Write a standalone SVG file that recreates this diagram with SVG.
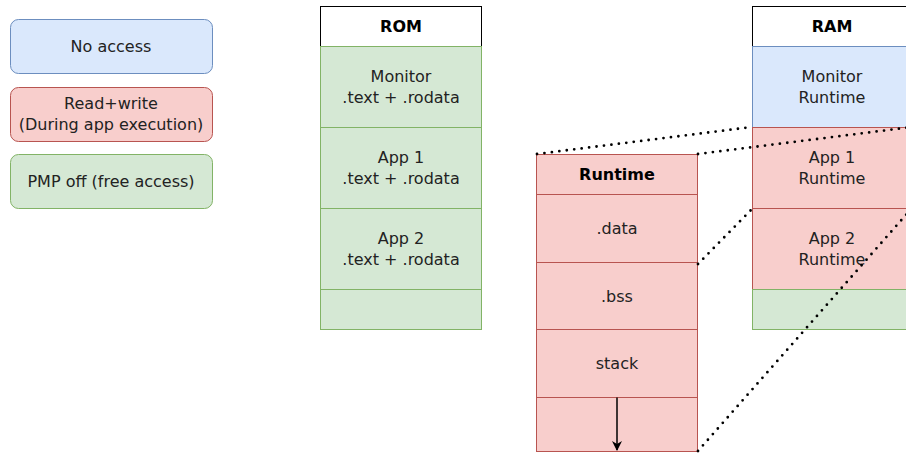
<svg xmlns="http://www.w3.org/2000/svg" width="906" height="453" viewBox="0 0 906 453">
<style>
text{font-family:"DejaVu Sans","Noto Sans",sans-serif;font-size:16px;fill:#222;text-anchor:middle}
.b{font-weight:bold;fill:#000}
.hdr{fill:#fff;stroke:#000;stroke-width:1}
.blue{fill:#dae8fc;stroke:#6c8ebf;stroke-width:1}
.red{fill:#f8cecc;stroke:#b85450;stroke-width:1}
.green{fill:#d5e8d4;stroke:#82b366;stroke-width:1}
.dot{fill:none;stroke:#000;stroke-width:2.8;stroke-linecap:round;stroke-dasharray:0 7.5}
</style>
<defs>
<marker id="ah" viewBox="0 0 10 10" refX="9" refY="5" markerWidth="10" markerHeight="10" markerUnits="userSpaceOnUse" orient="auto">
<path d="M0,0 L10,5 L0,10 L3,5 Z" fill="#000"/>
</marker>
</defs>
<rect width="906" height="453" fill="#fff"/>

<g id="legend-noaccess">
<rect class="blue" x="10.5" y="19.5" width="202" height="54" rx="8"/>
<text x="111" y="52">No access</text>
</g>
<g id="legend-rw">
<rect class="red" x="10.5" y="87.5" width="202" height="54" rx="8"/>
<text x="111" y="109">Read+write</text>
<text x="111" y="130">(During app execution)</text>
</g>
<g id="legend-pmpoff">
<rect class="green" x="10.5" y="154.5" width="202" height="54" rx="8"/>
<text x="111" y="187">PMP off (free access)</text>
</g>

<g id="rom">
<rect class="hdr" x="320.5" y="6.5" width="161" height="40"/>
<text class="b" x="401" y="32">ROM</text>
<rect class="green" x="320.5" y="46.5" width="161" height="81"/>
<text x="401" y="82">Monitor</text>
<text x="401" y="103">.text + .rodata</text>
<rect class="green" x="320.5" y="127.5" width="161" height="81"/>
<text x="401" y="163">App 1</text>
<text x="401" y="184">.text + .rodata</text>
<rect class="green" x="320.5" y="208.5" width="161" height="81"/>
<text x="401" y="244">App 2</text>
<text x="401" y="265">.text + .rodata</text>
<rect class="green" x="320.5" y="289.5" width="161" height="40"/>
</g>

<g id="ram">
<rect class="hdr" x="752.5" y="6.5" width="161" height="40"/>
<text class="b" x="832" y="32">RAM</text>
<rect class="blue" x="752.5" y="46.5" width="161" height="81"/>
<text x="832" y="82">Monitor</text>
<text x="832" y="103">Runtime</text>
<rect class="red" x="752.5" y="127.5" width="161" height="81"/>
<text x="832" y="163">App 1</text>
<text x="832" y="184">Runtime</text>
<rect class="red" x="752.5" y="208.5" width="161" height="81"/>
<text x="832" y="244">App 2</text>
<text x="832" y="265">Runtime</text>
<rect class="green" x="752.5" y="289.5" width="161" height="40"/>
</g>

<g id="runtime">
<rect class="red" x="536.5" y="154.5" width="161" height="40"/>
<text class="b" x="617" y="180">Runtime</text>
<rect class="red" x="536.5" y="194.5" width="161" height="68"/>
<text x="617" y="234">.data</text>
<rect class="red" x="536.5" y="262.5" width="161" height="67"/>
<text x="617" y="302">.bss</text>
<rect class="red" x="536.5" y="329.5" width="161" height="68"/>
<text x="617" y="369">stack</text>
<rect class="red" x="536.5" y="397.5" width="161" height="54"/>
</g>

<g id="connectors">
<line x1="617" y1="397.5" x2="617" y2="450" stroke="#000" stroke-width="1.5" marker-end="url(#ah)"/>
<line class="dot" x1="537" y1="154" x2="752" y2="127"/>
<line class="dot" x1="698" y1="154" x2="912" y2="127"/>
<line class="dot" x1="698" y1="264" x2="752" y2="209"/>
<line class="dot" x1="698" y1="451" x2="912" y2="208"/>
</g>
</svg>
